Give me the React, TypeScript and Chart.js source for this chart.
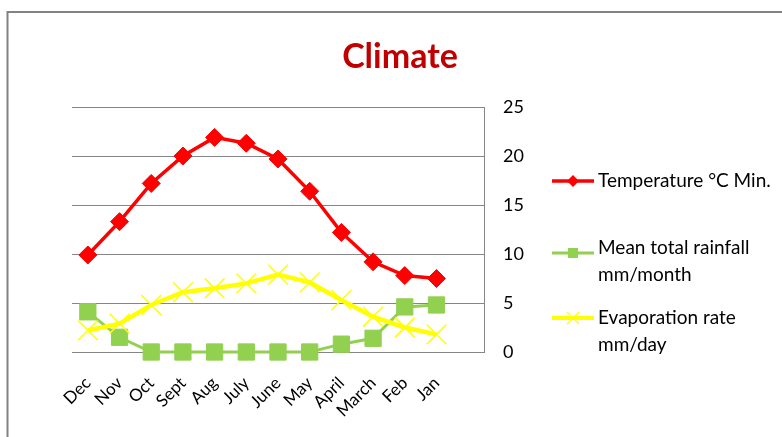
import React, { useEffect, useRef } from 'react';
import { Chart, registerables } from 'chart.js';

Chart.register(...registerables);

const categories = ['Dec', 'Nov', 'Oct', 'Sept', 'Aug', 'July', 'June', 'May', 'April', 'March', 'Feb', 'Jan', ''];
const temperatureMin = [9.9, 13.3, 17.2, 20.0, 21.9, 21.3, 19.7, 16.4, 12.2, 9.2, 7.8, 7.5, null];
const meanRainfall = [4.1, 1.5, 0, 0, 0, 0, 0, 0, 0.8, 1.4, 4.6, 4.8, null];
const evaporationRate = [2.2, 2.9, 4.8, 6.1, 6.5, 7.0, 7.9, 7.1, 5.3, 3.6, 2.5, 1.8, null];
const yTicks = [0, 5, 10, 15, 20, 25];
const titleText = 'Climate';
const seriesNames = ['Temperature °C Min.', 'Mean total rainfall mm/month', 'Evaporation rate mm/day'];
const legendLines = [['Temperature °C Min.'], ['Mean total rainfall', 'mm/month'], ['Evaporation rate', 'mm/day']];

const RED = '#FF0000';
const GREEN = '#92D050';
const YELLOW = '#FFFF00';
const FONT = 'Lato, "Open Sans", sans-serif';

const decorPlugin = {
  id: 'decor',
  beforeDraw(chart: any) {
    const ctx = chart.ctx;
    ctx.save();
    ctx.fillStyle = '#ffffff';
    ctx.fillRect(0, 0, chart.width, chart.height);
    ctx.strokeStyle = '#828282';
    ctx.lineWidth = 2;
    ctx.strokeRect(7.5, 12, chart.width + 20, chart.height + 20);
    ctx.restore();
  },
  afterDraw(chart: any) {
    const ctx = chart.ctx;
    ctx.save();
    // title
    ctx.fillStyle = '#C00000';
    ctx.font = `bold 34px ${FONT}`;
    ctx.textAlign = 'center';
    ctx.textBaseline = 'alphabetic';
    ctx.fillText(titleText, 400, 68);

    // legend
    const items = [
      { y: 181, color: RED, lw: 3.5, marker: 'diamond' },
      { y: 253, color: GREEN, lw: 3, marker: 'square' },
      { y: 318, color: YELLOW, lw: 4, marker: 'x' },
    ];
    const lineYs = [[181], [248, 275], [318, 345]];
    items.forEach((it, i) => {
      ctx.strokeStyle = it.color;
      ctx.lineWidth = it.lw;
      ctx.beginPath();
      ctx.moveTo(552, it.y);
      ctx.lineTo(594, it.y);
      ctx.stroke();
      const cx = 573;
      ctx.fillStyle = it.color;
      if (it.marker === 'diamond') {
        ctx.beginPath();
        ctx.moveTo(cx, it.y - 6);
        ctx.lineTo(cx + 6, it.y);
        ctx.lineTo(cx, it.y + 6);
        ctx.lineTo(cx - 6, it.y);
        ctx.closePath();
        ctx.fill();
      } else if (it.marker === 'square') {
        ctx.fillRect(cx - 5, it.y - 5, 10, 10);
      } else {
        ctx.lineWidth = 1.2;
        ctx.beginPath();
        ctx.moveTo(cx - 6, it.y - 6);
        ctx.lineTo(cx + 6, it.y + 6);
        ctx.moveTo(cx + 6, it.y - 6);
        ctx.lineTo(cx - 6, it.y + 6);
        ctx.stroke();
      }
      ctx.fillStyle = '#000000';
      ctx.font = `19px ${FONT}`;
      ctx.textAlign = 'left';
      ctx.textBaseline = 'middle';
      legendLines[i].forEach((t, j) => ctx.fillText(t, 598, lineYs[i][j]));
    });
    ctx.restore();
  },
};

export default function App() {
  const ref = useRef<HTMLCanvasElement | null>(null);

  useEffect(() => {
    if (!ref.current) return;
    const chart = new Chart(ref.current, {
      type: 'line',
      data: {
        labels: categories,
        datasets: [
          {
            label: seriesNames[0],
            data: temperatureMin,
            borderColor: RED,
            backgroundColor: RED,
            borderWidth: 3.5,
            pointStyle: 'rectRot',
            pointRadius: 9,
            pointBorderWidth: 1,
            pointBackgroundColor: RED,
            pointBorderColor: RED,
            tension: 0,
            clip: false,
            order: 3,
          },
          {
            label: seriesNames[1],
            data: meanRainfall,
            borderColor: GREEN,
            backgroundColor: GREEN,
            borderWidth: 3,
            pointStyle: 'rect',
            pointRadius: 11.5,
            pointBorderWidth: 1,
            pointBackgroundColor: GREEN,
            pointBorderColor: GREEN,
            tension: 0,
            clip: false,
            order: 2,
          },
          {
            label: seriesNames[2],
            data: evaporationRate,
            borderColor: YELLOW,
            backgroundColor: YELLOW,
            borderWidth: 4.5,
            pointStyle: 'crossRot',
            pointRadius: 14,
            pointBorderWidth: 1.5,
            pointBorderColor: YELLOW,
            tension: 0,
            clip: false,
            order: 1,
          },
        ],
      },
      options: {
        responsive: false,
        animation: false,
        layout: { padding: { left: 72, top: 107, right: 238, bottom: 0 } },
        plugins: {
          legend: { display: false },
          title: { display: false },
          tooltip: { enabled: false },
        },
        scales: {
          x: {
            type: 'category',
            offset: true,
            grid: { display: false, drawTicks: false },
            border: { display: false },
            ticks: {
              autoSkip: false,
              minRotation: 45,
              maxRotation: 45,
              padding: 21,
              color: '#000000',
              font: { family: FONT, size: 17 },
            },
            afterFit(scale: any) {
              scale.height = 85;
            },
          },
          y: {
            position: 'right',
            min: 0,
            max: 25,
            grid: { color: '#868686', lineWidth: 1, drawTicks: false },
            border: { display: true, color: '#868686', width: 1 },
            ticks: {
              stepSize: 5,
              padding: 19,
              color: '#000000',
              font: { family: FONT, size: 18 },
            },
            afterBuildTicks(scale: any) {
              scale.ticks = yTicks.map((v) => ({ value: v }));
            },
            afterFit(scale: any) {
              scale.width = 60;
            },
          },
        },
      },
      plugins: [decorPlugin],
    } as any);
    return () => chart.destroy();
  }, []);

  return (
    <div style={{ position: 'fixed', left: 0, top: 0, width: 782, height: 437, background: '#fff' }}>
      <canvas ref={ref} width={782} height={437} />
    </div>
  );
}
